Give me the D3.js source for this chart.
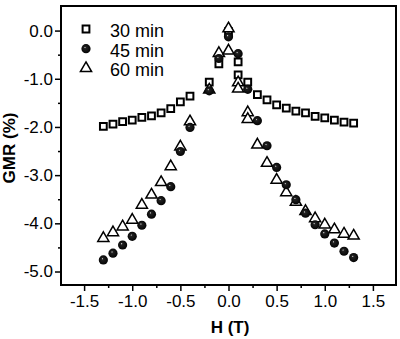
<!DOCTYPE html>
<html>
<head>
<meta charset="utf-8">
<script src="https://cdn.jsdelivr.net/npm/d3@7"></script>
<style>
  html, body { margin: 0; padding: 0; background: #fff; }
  svg { display: block; }
  text { font-family: Arial, "Liberation Sans", sans-serif; fill: #000; }
</style>
</head>
<body>
<svg id="chart" width="400" height="339"></svg>
<script>
// Magnetoresistance vs. applied field for three annealing times
const seriesNames = ["30 min", "45 min", "60 min"];

const fieldH30 = [-1.3, -1.2, -1.1, -1.0, -0.9, -0.8, -0.7, -0.6, -0.5, -0.4, -0.2, -0.1, 0.0,
                  0.1, 0.1, 0.2, 0.3, 0.4, 0.5, 0.6, 0.7, 0.8, 0.9, 1.0, 1.1, 1.2, 1.3];
const gmr30 = [-1.99, -1.94, -1.89, -1.86, -1.80, -1.77, -1.71, -1.62, -1.48, -1.36, -1.07, -0.69, -0.02,
               -0.65, -0.92, -1.07, -1.33, -1.44, -1.54, -1.61, -1.67, -1.71, -1.78, -1.81, -1.86, -1.90, -1.92];

const fieldH45 = [-1.3, -1.2, -1.1, -1.0, -0.9, -0.8, -0.7, -0.6, -0.5, -0.4, -0.2, -0.1, 0.0,
                  0.1, 0.2, 0.3, 0.4, 0.5, 0.6, 0.7, 0.8, 0.9, 1.0, 1.1, 1.2, 1.3];
const gmr45 = [-4.76, -4.62, -4.45, -4.27, -4.04, -3.81, -3.53, -3.24, -2.51, -2.01, -1.25, -0.58, -0.13,
               -0.48, -1.22, -1.87, -2.39, -2.84, -3.20, -3.51, -3.79, -4.03, -4.22, -4.41, -4.58, -4.71];

const fieldH60 = [-1.3, -1.2, -1.1, -1.0, -0.9, -0.8, -0.7, -0.6, -0.5, -0.4, -0.2, -0.1, 0.0, 0.0,
                  0.1, 0.1, 0.2, 0.2, 0.3, 0.4, 0.5, 0.6, 0.7, 0.8, 0.9, 1.0, 1.1, 1.2, 1.3];
const gmr60 = [-4.31, -4.19, -4.07, -3.93, -3.62, -3.41, -3.15, -2.82, -2.41, -1.89, -1.23, -0.47, 0.04, -0.42,
               -1.08, -1.21, -1.70, -1.84, -2.37, -2.75, -3.10, -3.36, -3.56, -3.75, -3.90, -4.03, -4.13, -4.22, -4.26];

const xMajorTicks = [-1.5, -1.0, -0.5, 0.0, 0.5, 1.0, 1.5];
const xMinorTicks = [-1.25, -0.75, -0.25, 0.25, 0.75, 1.25];
const yMajorTicks = [0.0, -1.0, -2.0, -3.0, -4.0, -5.0];
const yMinorTicks = [-0.5, -1.5, -2.5, -3.5, -4.5];

const svg = d3.select("#chart");
const plotLeft = 61, plotRight = 396, plotTop = 6, plotBottom = 285;

const x = d3.scaleLinear().domain([-1.74, 1.74]).range([plotLeft, plotRight]);
const y = d3.scaleLinear().domain([-5.28, 0.51]).range([plotBottom, plotTop]);

// shaded sphere fill for the filled circles
const defs = svg.append("defs");
const grad = defs.append("radialGradient").attr("id", "ball")
  .attr("cx", "50%").attr("cy", "50%").attr("r", "55%")
  .attr("fx", "38%").attr("fy", "35%");
grad.append("stop").attr("offset", "0%").attr("stop-color", "#dcdcdc");
grad.append("stop").attr("offset", "20%").attr("stop-color", "#222");
grad.append("stop").attr("offset", "100%").attr("stop-color", "#000");

// frame
svg.append("rect")
  .attr("x", plotLeft).attr("y", plotTop)
  .attr("width", plotRight - plotLeft).attr("height", plotBottom - plotTop)
  .attr("fill", "none").attr("stroke", "#000").attr("stroke-width", 2);

const fmt = d => d3.format(".1f")(d).replace("\u2212", "-");

// x axis
const xAxis = svg.append("g").attr("transform", `translate(0,${plotBottom})`)
  .call(d3.axisBottom(x).tickValues(xMajorTicks).tickFormat(fmt)
        .tickSize(6).tickPadding(4));
xAxis.select(".domain").remove();
xAxis.selectAll(".tick line").attr("stroke", "#000").attr("stroke-width", 1.5);
xAxis.selectAll(".tick text").attr("font-size", 17).attr("fill", "#000")
  .attr("font-family", "Arial, 'Liberation Sans', sans-serif");

svg.append("g").attr("transform", `translate(0,${plotBottom})`)
  .call(d3.axisBottom(x).tickValues(xMinorTicks).tickFormat("").tickSize(3))
  .call(g => g.select(".domain").remove())
  .selectAll(".tick line").attr("stroke", "#000").attr("stroke-width", 1.5);

// y axis
const yAxis = svg.append("g").attr("transform", `translate(${plotLeft},0)`)
  .call(d3.axisLeft(y).tickValues(yMajorTicks).tickFormat(fmt).tickSize(6).tickPadding(2));
yAxis.select(".domain").remove();
yAxis.selectAll(".tick line").attr("stroke", "#000").attr("stroke-width", 1.5);
yAxis.selectAll(".tick text").attr("font-size", 17).attr("fill", "#000")
  .attr("font-family", "Arial, 'Liberation Sans', sans-serif");

svg.append("g").attr("transform", `translate(${plotLeft},0)`)
  .call(d3.axisLeft(y).tickValues(yMinorTicks).tickFormat("").tickSize(3))
  .call(g => g.select(".domain").remove())
  .selectAll(".tick line").attr("stroke", "#000").attr("stroke-width", 1.5);

// axis titles
svg.append("text")
  .attr("x", 230).attr("y", 333)
  .attr("text-anchor", "middle")
  .attr("font-size", 17).attr("font-weight", "bold")
  .text("H (T)");

svg.append("text")
  .attr("transform", "translate(15,148) rotate(-90)")
  .attr("text-anchor", "middle")
  .attr("font-size", 17).attr("font-weight", "bold")
  .text("GMR (%)");

// markers
const squareSym = d3.symbol().type(d3.symbolSquare).size(46);
const triSym = d3.symbol().type(d3.symbolTriangle).size(54);

const plot = svg.append("g");

const sq = d3.zip(fieldH30, gmr30);
plot.selectAll("path.s30").data(sq).join("path")
  .attr("class", "s30")
  .attr("d", squareSym)
  .attr("transform", d => `translate(${x(d[0])},${y(d[1])})`)
  .attr("fill", "#fff").attr("stroke", "#000").attr("stroke-width", 2);

const tr = d3.zip(fieldH60, gmr60);
plot.selectAll("path.s60").data(tr).join("path")
  .attr("class", "s60")
  .attr("d", triSym)
  .attr("transform", d => `translate(${x(d[0])},${y(d[1])})`)
  .attr("fill", "#fff").attr("stroke", "#000").attr("stroke-width", 1.5);

const ci = d3.zip(fieldH45, gmr45);
plot.selectAll("circle.s45").data(ci).join("circle")
  .attr("class", "s45")
  .attr("cx", d => x(d[0])).attr("cy", d => y(d[1]))
  .attr("r", 4.6)
  .attr("fill", "url(#ball)");

// legend
const legend = svg.append("g");
const legendRows = [
  { name: seriesNames[0], kind: "square" },
  { name: seriesNames[1], kind: "circle" },
  { name: seriesNames[2], kind: "triangle" }
];
legendRows.forEach((row, i) => {
  const cy = 29 + i * 19.7;
  if (row.kind === "square") {
    legend.append("path").attr("d", squareSym)
      .attr("transform", `translate(86,${cy})`)
      .attr("fill", "#fff").attr("stroke", "#000").attr("stroke-width", 2);
  } else if (row.kind === "circle") {
    legend.append("circle").attr("cx", 86).attr("cy", cy).attr("r", 4.6)
      .attr("fill", "url(#ball)");
  } else {
    legend.append("path").attr("d", triSym)
      .attr("transform", `translate(86,${cy})`)
      .attr("fill", "#fff").attr("stroke", "#000").attr("stroke-width", 1.5);
  }
  legend.append("text").attr("x", 110).attr("y", cy + 8)
    .attr("font-size", 18).text(row.name);
});
</script>
</body>
</html>
